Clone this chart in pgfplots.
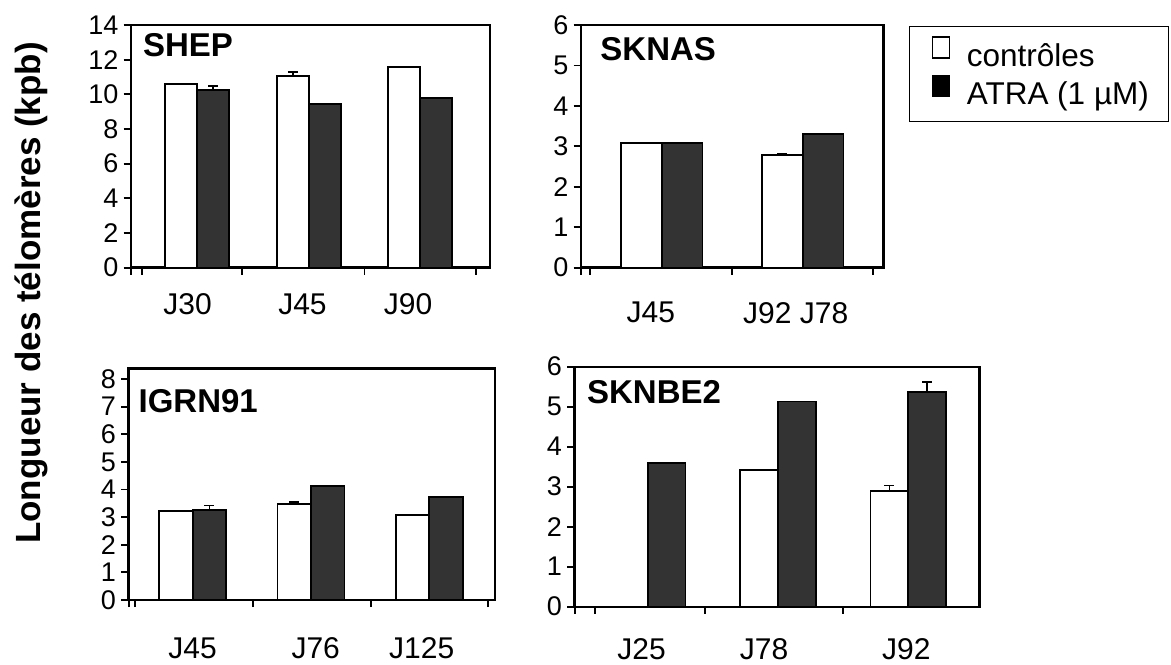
\documentclass[border=0pt]{standalone}
\usepackage{pgfplots}
\pgfplotsset{compat=1.18}
\usepackage{fontspec}
\setmainfont{Liberation Sans}
\definecolor{darkbar}{HTML}{333333}
\tikzset{ptitle/.style={font=\bfseries\fontsize{16.5}{19}\selectfont, anchor=north west, inner sep=0pt}}
\pgfplotsset{
  panel/.style={
    scale only axis, ymin=0,
    axis line style={line width=1.2pt},
    tick style={black, line width=0.9pt},
    tick align=outside, tick pos=left,
    major tick length=3.5pt,
    /pgf/number format/assume math mode=true,
    yticklabel style={font=\fontsize{13.5}{15}\selectfont, anchor=east, inner sep=0pt, xshift=-2.5pt},
    xticklabel style={font=\fontsize{15}{18}\selectfont, anchor=north, inner sep=0pt},
    xticklabels=\empty,
    extra x tick style={major tick length=0pt},
    clip=false,
  },
  wbar/.style={ybar, fill=white, draw=black, line width=0.9pt, forget plot},
  dbar/.style={ybar, fill=darkbar, draw=black, line width=0.9pt, forget plot},
  ebar/.style={forget plot, draw=none, mark=none,
    error bars/y dir=plus, error bars/y explicit, error bars/error mark=|,
    error bars/error bar style={draw=black, line width=0.9pt, solid},
    error bars/error mark options={draw=black, line width=0.9pt, mark size=2.5pt, solid}},
}
\begin{document}
\begin{tikzpicture}
\useasboundingbox (0,0) rectangle (585.5pt,332pt);

% ---------- SHEP ----------
\begin{axis}[panel, at={(65.35pt,198.15pt)}, anchor=south west,
  width=179.65pt, height=121.35pt,
  xmin=-0.598, xmax=2.627, ymax=14, ytick={0,2,...,14},
  xtick={-0.598,-0.5,0.4,1.5,2.5},
  extra x ticks={-0.088,0.944,1.891}, extra x tick labels={J30,J45,J90},
  xticklabel style={yshift=-12.65pt}]
\addplot[wbar, bar width=0.287, bar shift=-0.1435] coordinates {(0,10.59) (1,11.04) (2,11.56)};
\addplot[dbar, bar width=0.287, bar shift=0.1435] coordinates {(0,10.25) (1,9.44) (2,9.80)};
\addplot[ebar] coordinates {(0.8565,11.04) +- (0,0.26)};
\addplot[ebar] coordinates {(0.1435,10.25) +- (0,0.23)};
\node[ptitle] at (rel axis cs:0.0334,0.967) {SHEP};
\end{axis}

% ---------- SKNAS ----------
\begin{axis}[panel, at={(290.35pt,198.15pt)}, anchor=south west,
  width=151.3pt, height=121.35pt,
  xmin=-0.574, xmax=1.572, ymax=6, ytick={0,1,...,6},
  xtick={-0.574,-0.508,0.499,1.5},
  extra x ticks={-0.077,0.951}, extra x tick labels={J45,J92 J78},
  xticklabel style={yshift=-17pt},
  legend style={at={(1.086,0.996)}, anchor=north west, draw=black, line width=0.5pt,
    font=\fontsize{15.75}{18}\selectfont, inner xsep=8pt, inner ysep=5pt,
    cells={anchor=west}, row sep=1pt}]
\addlegendimage{legend image code/.code={\path[draw=none] (0pt,0pt) -- (18.5pt,0pt); \draw[black, fill=white, line width=0.6pt] (3.5pt,-1pt) rectangle (12pt,9.5pt);}}
\addlegendentry{contrôles}
\addlegendimage{legend image code/.code={\path[draw=none] (0pt,0pt) -- (18.5pt,0pt); \draw[black, fill=black, line width=0.6pt] (3.5pt,-1pt) rectangle (12pt,9.5pt);}}
\addlegendentry{ATRA (1 µM)\rule[-11pt]{0pt}{11pt}\hspace{3pt}}
\addplot[wbar, bar width=0.29, bar shift=-0.145] coordinates {(0,3.08) (1,2.79)};
\addplot[dbar, bar width=0.29, bar shift=0.145] coordinates {(0,3.08) (1,3.31)};
\addplot[ebar] coordinates {(0.855,2.79) +- (0,0.03)};
\node[ptitle] at (rel axis cs:0.064,0.952) {SKNAS};
\end{axis}

% ---------- IGRN91 ----------
\begin{axis}[panel, at={(64.15pt,32pt)}, anchor=south west,
  width=183.35pt, height=115.85pt,
  xmin=-0.544, xmax=2.555, ymax=8.39, ytick={0,1,...,8},
  xtick={-0.536,-0.488,0.507,1.505,2.499},
  extra x ticks={0,1.04,1.936}, extra x tick labels={J45,J76,J125},
  xticklabel style={yshift=-18.5pt}]
\addplot[wbar, bar width=0.283, bar shift=-0.1415] coordinates {(0,3.21) (1,3.49) (2,3.07)};
\addplot[dbar, bar width=0.283, bar shift=0.1415] coordinates {(0,3.27) (1,4.14) (2,3.74)};
\addplot[ebar] coordinates {(0.8585,3.49) +- (0,0.07)};
\addplot[ebar] coordinates {(0.1415,3.27) +- (0,0.15)};
\node[ptitle] at (rel axis cs:0.027,0.909) {IGRN91};
\end{axis}

% ---------- SKNBE2 ----------
\begin{axis}[panel, at={(287.15pt,28.65pt)}, anchor=south west,
  width=202.5pt, height=120pt,
  xmin=-0.563, xmax=2.545, ymax=6, ytick={0,1,...,6},
  xtick={-0.558,-0.404,0.44,1.497},
  extra x ticks={-0.046,0.893,1.985}, extra x tick labels={J25,J78,J92},
  xticklabel style={yshift=-15.65pt}]
\addplot[wbar, bar width=0.29, bar shift=-0.145] coordinates {(1,3.42) (2,2.90)};
\addplot[dbar, bar width=0.29, bar shift=0.145] coordinates {(0,3.60) (1,5.13) (2,5.36)};
\addplot[ebar] coordinates {(1.855,2.90) +- (0,0.13)};
\addplot[ebar] coordinates {(2.145,5.36) +- (0,0.25)};
\node[ptitle] at (rel axis cs:0.0306,0.945) {SKNBE2};
\end{axis}

\node[rotate=90, font=\bfseries\fontsize{17.5}{20}\selectfont, inner sep=0pt] at (15.5pt,185.5pt) {Longueur des télomères (kpb)};
\end{tikzpicture}
\end{document}
